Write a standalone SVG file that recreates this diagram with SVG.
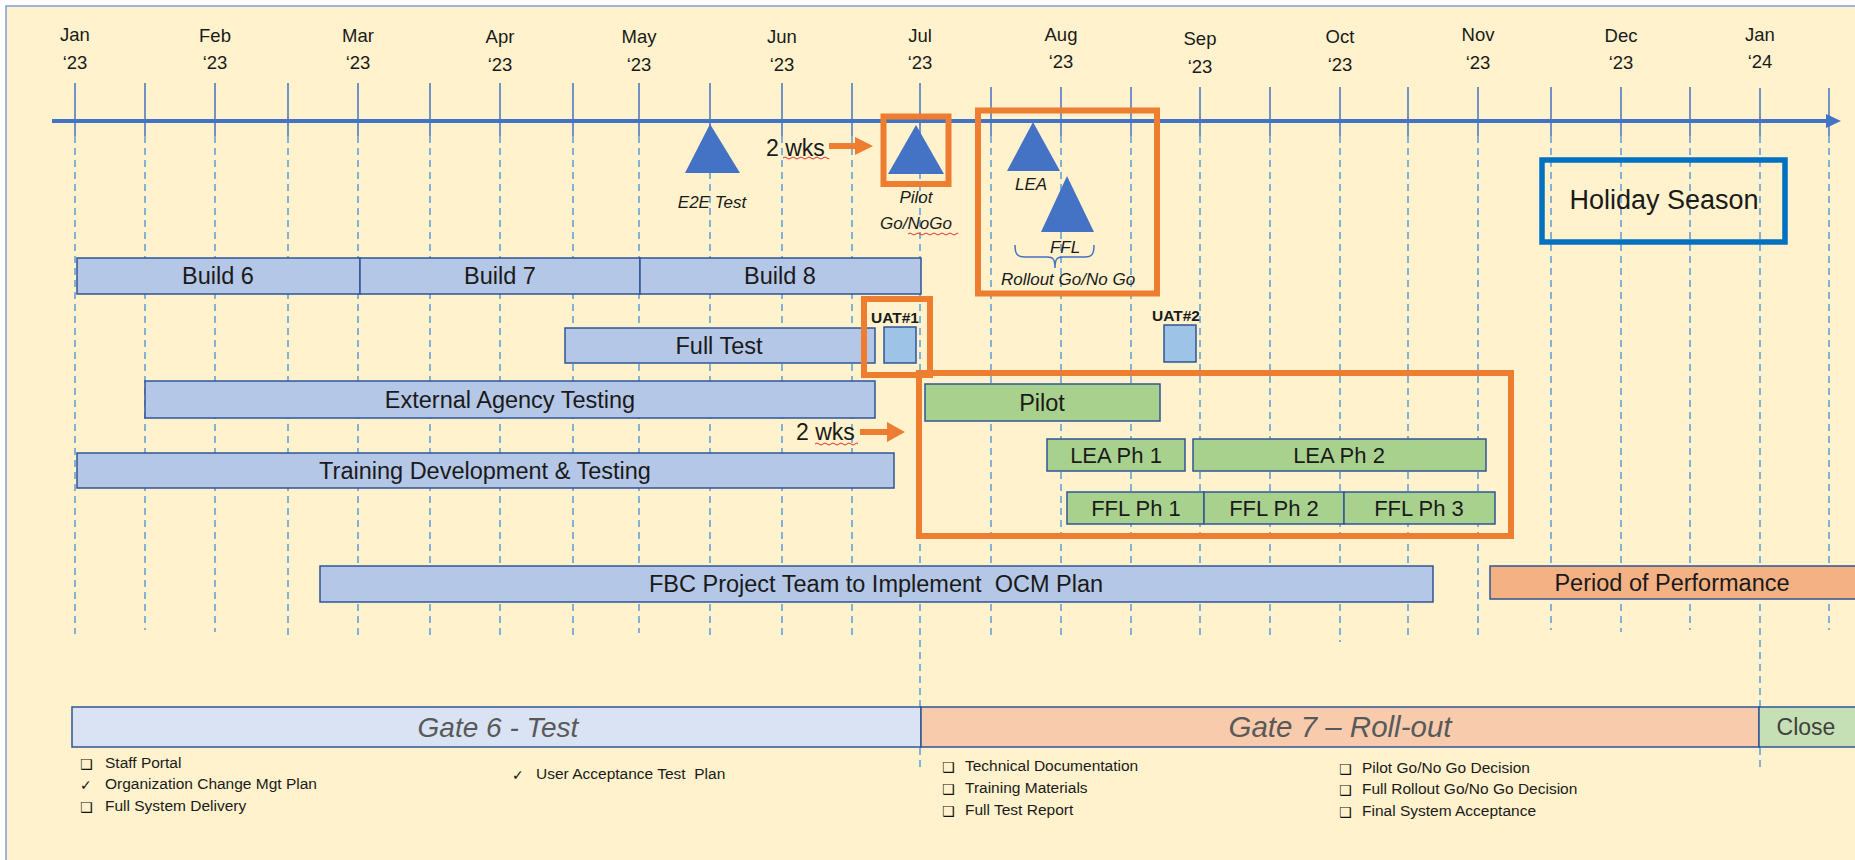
<svg xmlns="http://www.w3.org/2000/svg" width="1855" height="860" viewBox="0 0 1855 860">
<style>
.t{font-family:"Liberation Sans",Arial,sans-serif;fill:#1a1a1a}
.mo{font-size:18.5px;text-anchor:middle}
.bar{stroke:#2F5597;stroke-width:1.5}
.blue{fill:#B4C7E7}
.green{fill:#A9D18E}
.uat{fill:#9DC3E6}
.bl{font-size:23.5px;text-anchor:middle}
.gl{font-size:22px;text-anchor:middle}
.it{font-style:italic}
.ms{font-size:17px;text-anchor:middle;font-style:italic}
.org{fill:none;stroke:#ED7D31;stroke-width:6}
.tri{fill:#4472C4}
.solid{stroke:#4472C4;stroke-width:1.5}
.dash{stroke:#5B9BD5;stroke-width:1.5;stroke-dasharray:7 5}
.li{font-size:15.5px}
.ic{font-family:"DejaVu Sans",sans-serif;font-size:14px;font-weight:bold;fill:#111}
.sq{fill:none;stroke:#E03030;stroke-width:1}
</style>
<rect x="0" y="0" width="1855" height="860" fill="#ffffff"/>
<rect x="6" y="6" width="1849" height="854" fill="#FFF2CC"/>
<path d="M6,860 V6 H1855" fill="none" stroke="#7F9FD4" stroke-width="1.5"/>

<g id="gridlines">
<g class="solid">
<line x1="75" y1="83" x2="75" y2="136"/><line x1="145" y1="83" x2="145" y2="136"/>
<line x1="215" y1="83" x2="215" y2="136"/><line x1="288" y1="83" x2="288" y2="136"/>
<line x1="358" y1="83" x2="358" y2="136"/><line x1="430" y1="83" x2="430" y2="136"/>
<line x1="500" y1="83" x2="500" y2="136"/><line x1="573" y1="83" x2="573" y2="136"/>
<line x1="639" y1="83" x2="639" y2="136"/><line x1="710" y1="83" x2="710" y2="136"/>
<line x1="782" y1="83" x2="782" y2="136"/><line x1="852" y1="83" x2="852" y2="136"/>
<line x1="920" y1="83" x2="920" y2="136"/><line x1="991" y1="87" x2="991" y2="136"/>
<line x1="1061" y1="87" x2="1061" y2="136"/><line x1="1131" y1="87" x2="1131" y2="136"/>
<line x1="1200" y1="87" x2="1200" y2="136"/><line x1="1270" y1="87" x2="1270" y2="136"/>
<line x1="1340" y1="87" x2="1340" y2="136"/><line x1="1408" y1="87" x2="1408" y2="136"/>
<line x1="1478" y1="87" x2="1478" y2="136"/><line x1="1551" y1="87" x2="1551" y2="136"/>
<line x1="1621" y1="87" x2="1621" y2="136"/><line x1="1690" y1="87" x2="1690" y2="136"/>
<line x1="1760" y1="88" x2="1760" y2="136"/><line x1="1829" y1="88" x2="1829" y2="136"/>
</g>
<g class="dash">
<line x1="75" y1="136" x2="75" y2="634"/><line x1="145" y1="136" x2="145" y2="630"/>
<line x1="215" y1="136" x2="215" y2="632"/><line x1="288" y1="136" x2="288" y2="638"/>
<line x1="358" y1="136" x2="358" y2="640"/><line x1="430" y1="136" x2="430" y2="638"/>
<line x1="500" y1="136" x2="500" y2="637"/><line x1="573" y1="136" x2="573" y2="636"/>
<line x1="639" y1="136" x2="639" y2="633"/><line x1="710" y1="136" x2="710" y2="638"/>
<line x1="782" y1="136" x2="782" y2="636"/><line x1="852" y1="136" x2="852" y2="637"/>
<line x1="920" y1="136" x2="920" y2="767"/><line x1="991" y1="136" x2="991" y2="635"/>
<line x1="1061" y1="136" x2="1061" y2="640"/><line x1="1131" y1="136" x2="1131" y2="638"/>
<line x1="1200" y1="136" x2="1200" y2="638"/><line x1="1270" y1="136" x2="1270" y2="640"/>
<line x1="1340" y1="136" x2="1340" y2="642"/><line x1="1408" y1="136" x2="1408" y2="640"/>
<line x1="1478" y1="136" x2="1478" y2="640"/><line x1="1551" y1="136" x2="1551" y2="630"/>
<line x1="1621" y1="136" x2="1621" y2="632"/><line x1="1690" y1="136" x2="1690" y2="630"/>
<line x1="1760" y1="136" x2="1760" y2="767"/><line x1="1829" y1="136" x2="1829" y2="630"/>
</g>
</g>

<g id="month-labels" class="t mo">
<text x="75" y="41">Jan</text><text x="75" y="69">‘23</text>
<text x="215" y="42">Feb</text><text x="215" y="69">‘23</text>
<text x="358" y="42">Mar</text><text x="358" y="69">‘23</text>
<text x="500" y="43">Apr</text><text x="500" y="71">‘23</text>
<text x="639" y="43">May</text><text x="639" y="71">‘23</text>
<text x="782" y="43">Jun</text><text x="782" y="71">‘23</text>
<text x="920" y="42">Jul</text><text x="920" y="69">‘23</text>
<text x="1061" y="41">Aug</text><text x="1061" y="68">‘23</text>
<text x="1200" y="45">Sep</text><text x="1200" y="73">‘23</text>
<text x="1340" y="43">Oct</text><text x="1340" y="71">‘23</text>
<text x="1478" y="41">Nov</text><text x="1478" y="69">‘23</text>
<text x="1621" y="42">Dec</text><text x="1621" y="69">‘23</text>
<text x="1760" y="41">Jan</text><text x="1760" y="68">‘24</text>
</g>

<g id="timeline-axis">
<line x1="52" y1="121" x2="1830" y2="121" stroke="#4472C4" stroke-width="4"/>
<polygon points="1826,114 1841,121 1826,128" fill="#4472C4"/>
</g>

<g id="milestone-e2e">
<polygon class="tri" points="710,124 685,173 740,173"/>
<text class="t ms" x="712" y="208">E2E Test</text>
</g>

<g id="milestone-pilot">
<rect class="org" x="883.5" y="116.5" width="65" height="67.5"/>
<polygon class="tri" points="916,125 888,174 944,174"/>
<text class="t ms" x="916" y="203" font-size="18">Pilot</text>
<text class="t ms" x="916" y="229" font-size="18">Go/NoGo</text>
<path class="sq" d="M908,234 q2,-2 4,0 t4,0 t4,0 t4,0 t4,0 t4,0 t4,0 t4,0 t4,0 t4,0 t4,0 t4,0 t2,0"/>
</g>

<g id="milestone-rollout">
<rect class="org" x="978" y="110.5" width="179" height="183"/>
<polygon class="tri" points="1033,122 1007,171 1060,171"/>
<text class="t ms" x="1031" y="190">LEA</text>
<polygon class="tri" points="1067,176 1041,232 1094,232"/>
<text class="t ms" x="1065" y="253">FFL</text>
<text class="t ms" x="1068" y="285" font-size="18">Rollout Go/No Go</text>
</g>

<g id="holiday-season">
<rect x="1542" y="160" width="243" height="82" fill="none" stroke="#0070C0" stroke-width="5.5"/>
<text class="t" x="1664" y="209" font-size="27" text-anchor="middle">Holiday Season</text>
</g>

<g id="build6"><rect class="bar blue" x="77" y="258" width="283" height="36"/><text class="t bl" x="218" y="284">Build 6</text></g>
<g id="build7"><rect class="bar blue" x="360" y="258" width="280" height="36"/><text class="t bl" x="500" y="284">Build 7</text></g>
<g id="build8"><rect class="bar blue" x="640" y="258" width="281" height="36"/><text class="t bl" x="780" y="284">Build 8</text></g>

<g id="full-test"><rect class="bar blue" x="565" y="328" width="310" height="35"/><text class="t bl" x="719" y="354">Full Test</text></g>

<g id="uat1">
<rect class="org" x="864" y="299" width="66" height="76"/>
<rect class="bar uat" x="884" y="327" width="32" height="36"/>
<text class="t" x="895" y="323" font-size="15.5" font-weight="bold" text-anchor="middle">UAT#1</text>
</g>

<g id="uat2">
<rect class="bar uat" x="1164" y="325" width="32" height="37"/>
<text class="t" x="1176" y="321" font-size="15.5" font-weight="bold" text-anchor="middle">UAT#2</text>
</g>

<g id="external-agency"><rect class="bar blue" x="145" y="381" width="730" height="37"/><text class="t bl" x="510" y="408">External Agency Testing</text></g>

<g id="training"><rect class="bar blue" x="77" y="453" width="817" height="35"/><text class="t bl" x="485" y="479">Training Development &amp; Testing</text></g>

<g id="rollout-box"><rect class="org" x="919" y="373" width="592" height="163"/></g>

<g id="pilot"><rect class="bar green" x="925" y="384" width="235" height="37"/><text class="t bl" x="1042" y="411">Pilot</text></g>
<g id="lea-ph1"><rect class="bar green" x="1047" y="439" width="138" height="32"/><text class="t gl" x="1116" y="463">LEA Ph 1</text></g>
<g id="lea-ph2"><rect class="bar green" x="1193" y="439" width="293" height="32"/><text class="t gl" x="1339" y="463">LEA Ph 2</text></g>
<g id="ffl-ph1"><rect class="bar green" x="1067" y="492" width="137" height="32"/><text class="t gl" x="1136" y="516">FFL Ph 1</text></g>
<g id="ffl-ph2"><rect class="bar green" x="1204" y="492" width="140" height="32"/><text class="t gl" x="1274" y="516">FFL Ph 2</text></g>
<g id="ffl-ph3"><rect class="bar green" x="1344" y="492" width="151" height="32"/><text class="t gl" x="1419" y="516">FFL Ph 3</text></g>

<g id="fbc-ocm"><rect class="bar blue" x="320" y="566" width="1113" height="36"/><text class="t bl" x="876" y="592" xml:space="preserve">FBC Project Team to Implement  OCM Plan</text></g>

<g id="period-of-performance"><rect class="bar" fill="#F4B183" x="1490" y="566" width="380" height="33"/><text class="t bl" x="1672" y="591">Period of Performance</text></g>

<g id="gate6"><rect class="bar" fill="#DAE3F3" x="72" y="707" width="849" height="40"/><text class="t it" x="498" y="737" font-size="28" text-anchor="middle" style="fill:#595959">Gate 6 - Test</text></g>
<g id="gate7"><rect class="bar" fill="#F8CBAD" x="921" y="707" width="838" height="40"/><text class="t it" x="1340" y="737" font-size="29.5" text-anchor="middle" style="fill:#595959">Gate 7 – Roll-out</text></g>
<g id="close"><rect class="bar" fill="#C5E0B4" x="1759" y="707" width="110" height="40"/><text class="t" x="1806" y="735" font-size="23" text-anchor="middle" style="fill:#404040">Close</text></g>

<g id="gate6-deliverables">
<text class="ic" x="80" y="769">❑</text><text class="t li" x="105" y="768">Staff Portal</text>
<text class="ic" x="80" y="790">✓</text><text class="t li" x="105" y="789">Organization Change Mgt Plan</text>
<text class="ic" x="80" y="812">❑</text><text class="t li" x="105" y="811">Full System Delivery</text>
<text class="ic" x="512" y="780">✓</text><text class="t li" x="536" y="779" xml:space="preserve">User Acceptance Test  Plan</text>
</g>

<g id="gate7-deliverables">
<text class="ic" x="942" y="772">❑</text><text class="t li" x="965" y="771">Technical Documentation</text>
<text class="ic" x="942" y="794">❑</text><text class="t li" x="965" y="793">Training Materials</text>
<text class="ic" x="942" y="816">❑</text><text class="t li" x="965" y="815">Full Test Report</text>
<text class="ic" x="1339" y="774">❑</text><text class="t li" x="1362" y="773">Pilot Go/No Go Decision</text>
<text class="ic" x="1339" y="795">❑</text><text class="t li" x="1362" y="794">Full Rollout Go/No Go Decision</text>
<text class="ic" x="1339" y="817">❑</text><text class="t li" x="1362" y="816">Final System Acceptance</text>
</g>

<g id="connectors">
<path d="M1015,245 C1015,254 1017,257 1025,257 L1047,257 C1053,257 1055,259 1055,268 C1055,259 1057,257 1063,257 L1085,257 C1092,257 1094,254 1094,245" fill="none" stroke="#4472C4" stroke-width="1.5"/>
<path d="M829,143 H855 V137 L873,146 L855,155 V149 H829 Z" fill="#ED7D31"/>
<text class="t" x="766" y="156" font-size="23">2 wks</text>
<path class="sq" d="M783,158 q2,-2 4,0 t4,0 t4,0 t4,0 t4,0 t4,0 t4,0 t4,0 t4,0 t4,0 t4,0 t2,0"/>
<path d="M860,429 H887 V422 L905,432 L887,442 V435 H860 Z" fill="#ED7D31"/>
<text class="t" x="796" y="440" font-size="23">2 wks</text>
<path class="sq" d="M815,444 q2,-2 4,0 t4,0 t4,0 t4,0 t4,0 t4,0 t4,0 t4,0 t4,0 t4,0 t3,0"/>
</g>
</svg>
